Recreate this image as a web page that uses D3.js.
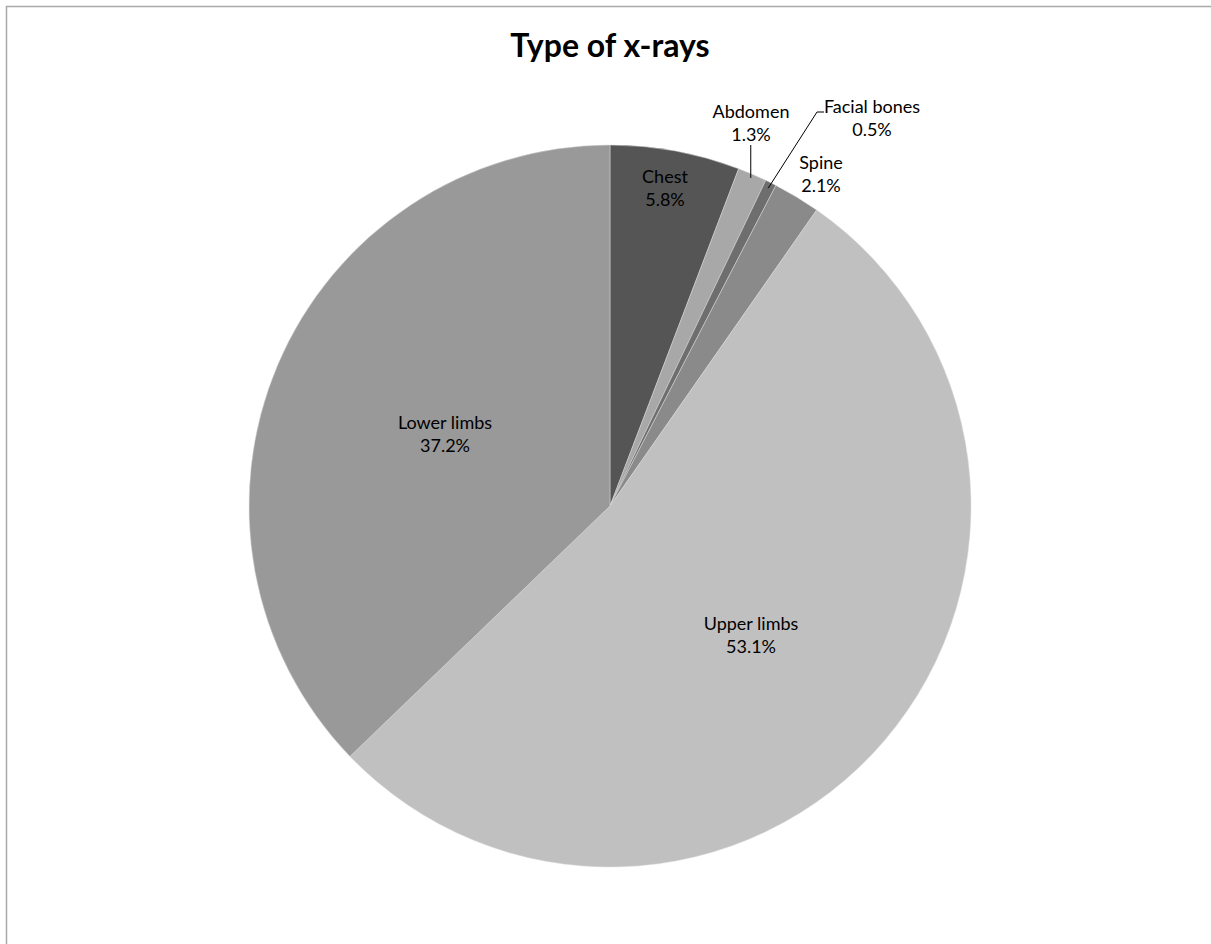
<!DOCTYPE html>
<html><head><meta charset="utf-8">
<script src="https://cdn.jsdelivr.net/npm/d3@7"></script>
<style>body{margin:0;background:#fff}svg{display:block}</style>
</head><body>
<script>
const categories = ["Chest","Abdomen","Facial bones","Spine","Upper limbs","Lower limbs"];
const values = [5.8,1.3,0.5,2.1,53.1,37.2];
const colors = ["#555555","#a8a8a8","#6e6e6e","#8a8a8a","#c0c0c0","#999999"];
const title = "Type of x-rays";

const W=1211,H=944, cx=610, cy=506, R=361;
const svg=d3.select("body").append("svg").attr("width",W).attr("height",H);
svg.append("path").attr("d",`M6.5,${H}V6.5H${W}`).attr("fill","none").attr("stroke","#a9a9a9").attr("stroke-width",1.5);
svg.append("text").attr("x",610).attr("y",57).attr("text-anchor","middle")
  .attr("font-family","Lato, 'Open Sans', sans-serif").attr("font-weight","bold").attr("font-size",32).attr("fill","#000").text(title);

const data=categories.map((c,i)=>({c,v:values[i],col:colors[i]}));
const pie=d3.pie().value(d=>d.v).sort(null);
const arcs=pie(data);
const arc=d3.arc().innerRadius(0).outerRadius(R);
const g=svg.append("g").attr("transform",`translate(${cx},${cy})`);
g.selectAll("path").data(arcs).join("path").attr("d",arc).attr("fill",d=>d.data.col).attr("stroke","#d8d8d8").attr("stroke-width",0.5);

// label positions (offsets relative to center)
const labelPos = {
  "Chest":[55,-323],
  "Abdomen":[141,-388],
  "Facial bones":[262,-393],
  "Spine":[211,-337],
  "Upper limbs":[141,124],
  "Lower limbs":[-165,-77]
};
const font="Lato, 'Open Sans', sans-serif";
arcs.forEach(a=>{
  const p=labelPos[a.data.c];
  const t=g.append("text").attr("text-anchor","middle").attr("font-family",font).attr("font-size",18).attr("fill","#000");
  t.append("tspan").attr("x",p[0]).attr("y",p[1]).text(a.data.c);
  t.append("tspan").attr("x",p[0]).attr("y",p[1]+23).text(a.data.v.toFixed(1)+"%");
});
// leader lines
function edgePt(a,rr){const m=(a.startAngle+a.endAngle)/2;return [rr*Math.sin(m),-rr*Math.cos(m)];}
const abd=arcs[1], fac=arcs[2];
const pa=edgePt(abd,R-4);
g.append("path").attr("d",`M${pa[0]},${pa[1]}V${-361}`).attr("stroke","#000").attr("fill","none").attr("stroke-width",1);
const pf=edgePt(fac,R-6);
g.append("path").attr("d",`M${pf[0]},${pf[1]}L207,-394H214`).attr("stroke","#000").attr("fill","none").attr("stroke-width",1);
</script>
</body></html>
